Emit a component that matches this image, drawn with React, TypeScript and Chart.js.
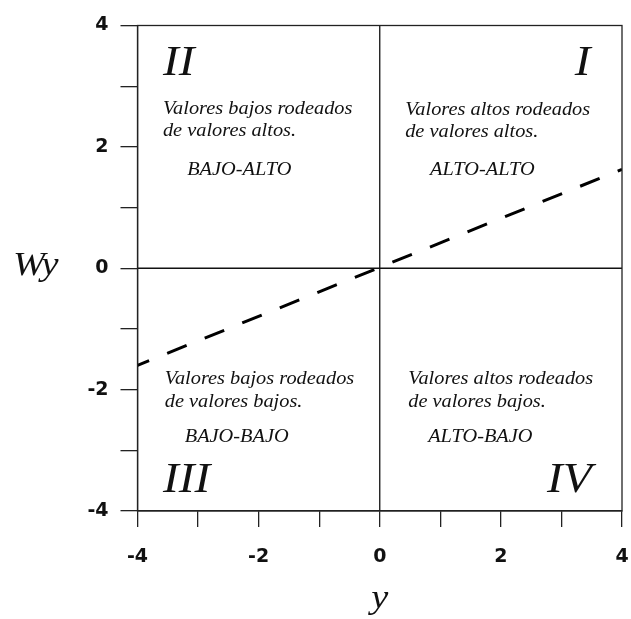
import React, { useEffect, useRef } from "react";
import { Chart, registerables } from "chart.js";

Chart.register(...registerables);

// Axis range and ticks
const axisMin = -4;
const axisMax = 4;
const tickValues = [-4, -3, -2, -1, 0, 1, 2, 3, 4];
const labeledTicks = [-4, -2, 0, 2, 4];

// Reference lines (x = 0, y = 0)
const hLineX = [-4, 4];
const hLineY = [0, 0];
const vLineX = [0, 0];
const vLineY = [-4, 4];

// Dashed trend line (Moran scatter slope)
const trendX = [-4, 4];
const trendY = [-1.6, 1.63];

// Quadrant texts
const numerals = ["II", "I", "III", "IV"];
const descLine1 = [
  "Valores bajos rodeados",
  "Valores altos rodeados",
  "Valores bajos rodeados",
  "Valores altos rodeados",
];
const descLine2 = [
  "de valores altos.",
  "de valores altos.",
  "de valores bajos.",
  "de valores bajos.",
];
const quadLabels = ["BAJO-ALTO", "ALTO-ALTO", "BAJO-BAJO", "ALTO-BAJO"];

// Anchors (data coordinates) for quadrant texts
const numeralAnchors = [
  [-3.58, 3.18],
  [3.22, 3.18],
  [-3.58, -3.69],
  [2.76, -3.69],
];
const line1Anchors = [
  [-3.58, 2.54],
  [0.42, 2.53],
  [-3.55, -1.91],
  [0.47, -1.91],
];
const line2Anchors = [
  [-3.58, 2.18],
  [0.42, 2.17],
  [-3.55, -2.29],
  [0.47, -2.29],
];
const labelAnchors = [
  [-3.18, 1.54],
  [0.83, 1.54],
  [-3.22, -2.86],
  [0.8, -2.86],
];

const xTitle = "y";
const yTitle = "Wy";

const toPoints = (xs: number[], ys: number[]) => xs.map((x, i) => ({ x, y: ys[i] }));

const SERIF = '"Liberation Serif", "Times New Roman", serif';
const STRETCH = 1.13;

const overlayPlugin = {
  id: "overlay",
  afterDraw(chart: any) {
    const { ctx, chartArea, scales } = chart;
    const xs = scales.x;
    const ys = scales.y;
    ctx.save();
    // frame
    ctx.strokeStyle = "#222";
    ctx.lineWidth = 1.3;
    ctx.strokeRect(chartArea.left, chartArea.top, chartArea.right - chartArea.left, chartArea.bottom - chartArea.top);

    ctx.fillStyle = "#111";
    ctx.textBaseline = "alphabetic";
    const putAt = (txt: string, px: number, py: number, font: string, align: string) => {
      ctx.save();
      ctx.font = font;
      ctx.textAlign = align;
      ctx.translate(px, py);
      ctx.scale(STRETCH, 1);
      ctx.fillText(txt, 0, 0);
      ctx.restore();
    };
    const put = (txt: string, a: number[], font: string) =>
      putAt(txt, xs.getPixelForValue(a[0]), ys.getPixelForValue(a[1]), font, "left");
    for (let i = 0; i < 4; i++) {
      put(numerals[i], numeralAnchors[i], `italic 42px ${SERIF}`);
      put(descLine1[i], line1Anchors[i], `italic 18px ${SERIF}`);
      put(descLine2[i], line2Anchors[i], `italic 18px ${SERIF}`);
      put(quadLabels[i], labelAnchors[i], `italic 18px ${SERIF}`);
    }
    // axis titles
    putAt(yTitle, 13, 275, `italic 34px ${SERIF}`, "left");
    putAt(xTitle, (chartArea.left + chartArea.right) / 2, 608, `italic 34px ${SERIF}`, "center");
    ctx.restore();
  },
};

export default function App() {
  const ref = useRef<HTMLCanvasElement | null>(null);
  useEffect(() => {
    document.body.style.margin = "0";
    const canvas = ref.current!;
    const tickFont = { family: '"DejaVu Sans", Arial, sans-serif', size: 19, weight: "bold" as const };
    const chart = new Chart(canvas, {
      type: "scatter",
      data: {
        datasets: [
          {
            data: toPoints(hLineX, hLineY),
            showLine: true,
            borderColor: "#111",
            borderWidth: 1.3,
            pointRadius: 0,
          },
          {
            data: toPoints(vLineX, vLineY),
            showLine: true,
            borderColor: "#111",
            borderWidth: 1.3,
            pointRadius: 0,
          },
          {
            data: toPoints(trendX, trendY),
            showLine: true,
            borderColor: "#000",
            borderWidth: 3,
            borderDash: [21, 19.5],
            borderDashOffset: 8.5,
            pointRadius: 0,
          },
        ],
      },
      options: {
        responsive: false,
        animation: false,
        events: [],
        layout: { padding: { top: 25.5, right: 9, left: 0, bottom: 0 } },
        plugins: { legend: { display: false }, tooltip: { enabled: false } },
        scales: {
          x: {
            type: "linear",
            min: axisMin,
            max: axisMax,
            afterFit: (s: any) => {
              s.height = 108;
              s.paddingLeft = 0;
              s.paddingRight = 0;
            },
            afterBuildTicks: (s: any) => {
              s.ticks = tickValues.map((v) => ({ value: v }));
            },
            grid: { drawOnChartArea: false, drawTicks: true, tickLength: 16, color: "#222", lineWidth: 1.3 },
            border: { display: true, color: "#222", width: 1.3 },
            ticks: {
              color: "#111",
              font: tickFont,
              padding: 19,
              maxRotation: 0,
              autoSkip: false,
              callback: (v: any) => (labeledTicks.includes(Number(v)) ? String(v) : ""),
            },
          },
          y: {
            type: "linear",
            min: axisMin,
            max: axisMax,
            afterFit: (s: any) => {
              s.width = 137.5;
              s.paddingTop = 0;
              s.paddingBottom = 0;
            },
            afterBuildTicks: (s: any) => {
              s.ticks = tickValues.map((v) => ({ value: v }));
            },
            grid: { drawOnChartArea: false, drawTicks: true, tickLength: 17, color: "#222", lineWidth: 1.3 },
            border: { display: true, color: "#222", width: 1.3 },
            ticks: {
              color: "#111",
              font: tickFont,
              padding: 12,
              autoSkip: false,
              callback: (v: any) => (labeledTicks.includes(Number(v)) ? String(v) : ""),
            },
          },
        },
      },
      plugins: [overlayPlugin],
    });
    return () => chart.destroy();
  }, []);
  return <canvas ref={ref} width={631} height={619} style={{ display: "block" }} />;
}
